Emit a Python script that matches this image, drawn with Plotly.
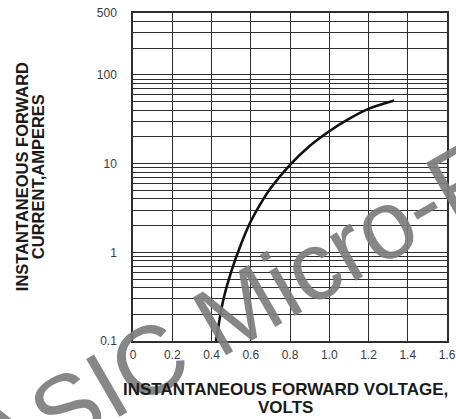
import plotly.graph_objects as go
import math

# Data
voltage = [0.423, 0.460, 0.503, 0.545, 0.596, 0.664, 0.70, 0.80, 0.90, 1.0, 1.1, 1.2, 1.331]
current = [0.1, 0.29, 0.63, 1.15, 2.14, 3.98, 5.25, 9.7, 15.8, 23.2, 32, 41.5, 51.5]

x_ticks = [0, 0.2, 0.4, 0.6, 0.8, 1.0, 1.2, 1.4, 1.6]
x_labels = ["0", "0.2", "0.4", "0.6", "0.8", "1.0", "1.2", "1.4", "1.6"]
y_major = [0.1, 1, 10, 100, 500]
y_major_labels = ["0.1", "1", "10", "100", "500"]
y_grid = [round(m * 10 ** e, 3) for e in (-1, 0, 1, 2) for m in range(1, 10) if m * 10 ** e <= 500]

y_text = [y_major_labels[y_major.index(v)] if v in y_major else "" for v in y_grid]

fig = go.Figure()
fig.add_trace(go.Scatter(
    x=voltage, y=current, mode="lines",
    line=dict(color="#111111", width=2.6, shape="spline", smoothing=0.8),
    showlegend=False, hoverinfo="skip",
))

FONT = "Liberation Sans, Arial, sans-serif"
tick_font = dict(family=FONT, size=12, color="#3a3a3a")
grid_col = "#2e2e2e"

fig.update_layout(
    width=456, height=419,
    margin=dict(l=133, r=9, t=13, b=78),
    paper_bgcolor="white", plot_bgcolor="white",
    xaxis=dict(
        range=[0, 1.6], tickvals=x_ticks, ticktext=x_labels,
        showgrid=True, gridcolor=grid_col, gridwidth=1.3,
        showline=True, linecolor=grid_col, linewidth=1.5, mirror=True,
        ticks="", tickfont=tick_font, zeroline=False, automargin=False,
        ticklabelstandoff=2,
    ),
    yaxis=dict(
        type="log", range=[-1, math.log10(500)],
        tickvals=y_grid, ticktext=y_text,
        showgrid=True, gridcolor=grid_col, gridwidth=1.3,
        showline=True, linecolor=grid_col, linewidth=1.5, mirror=True,
        ticks="", tickfont=tick_font, zeroline=False, automargin=False,
        ticklabelstandoff=12,
    ),
)

# Watermark (drawn first so titles sit above it)
fig.add_annotation(
    text="ASIC Micro-F",
    xref="paper", yref="paper", x=0.325, y=0.09, xanchor="center", yanchor="middle",
    showarrow=False, textangle=-30, opacity=0.92,
    font=dict(family=FONT, size=97, color="#7d7d7d"),
)

title_font = dict(family=FONT, size=17, color="#1a1a1a")
fig.add_annotation(
    text="<b>INSTANTANEOUS FORWARD VOLTAGE,</b>",
    xref="paper", yref="paper", x=0.485, y=-0.148, xanchor="center", yanchor="middle",
    showarrow=False, font=title_font,
)
fig.add_annotation(
    text="<b>VOLTS</b>",
    xref="paper", yref="paper", x=0.485, y=-0.204, xanchor="center", yanchor="middle",
    showarrow=False, font=title_font,
)
fig.add_annotation(
    text="<b>INSTANTANEOUS FORWARD</b>",
    xref="paper", yref="paper", x=-0.353, y=0.5, xanchor="center", yanchor="middle",
    textangle=-90, showarrow=False, font=dict(family=FONT, size=16.5, color="#1a1a1a"),
)
fig.add_annotation(
    text="<b>CURRENT,AMPERES</b>",
    xref="paper", yref="paper", x=-0.302, y=0.5, xanchor="center", yanchor="middle",
    textangle=-90, showarrow=False, font=dict(family=FONT, size=16.5, color="#1a1a1a"),
)
fig.add_annotation(
    text="T<span style='font-size:7px'>J</span>=25°C",
    xref="x", yref="y", x=0.178, y=300, xanchor="center", yanchor="middle",
    showarrow=False, bgcolor="white", borderpad=2,
    font=dict(family=FONT, size=9, color="#222222"),
)

fig.write_html(
    "out.html",
    config={"displayModeBar": False},
    post_script="document.body.style.margin='0';document.body.style.overflow='hidden';",
)
